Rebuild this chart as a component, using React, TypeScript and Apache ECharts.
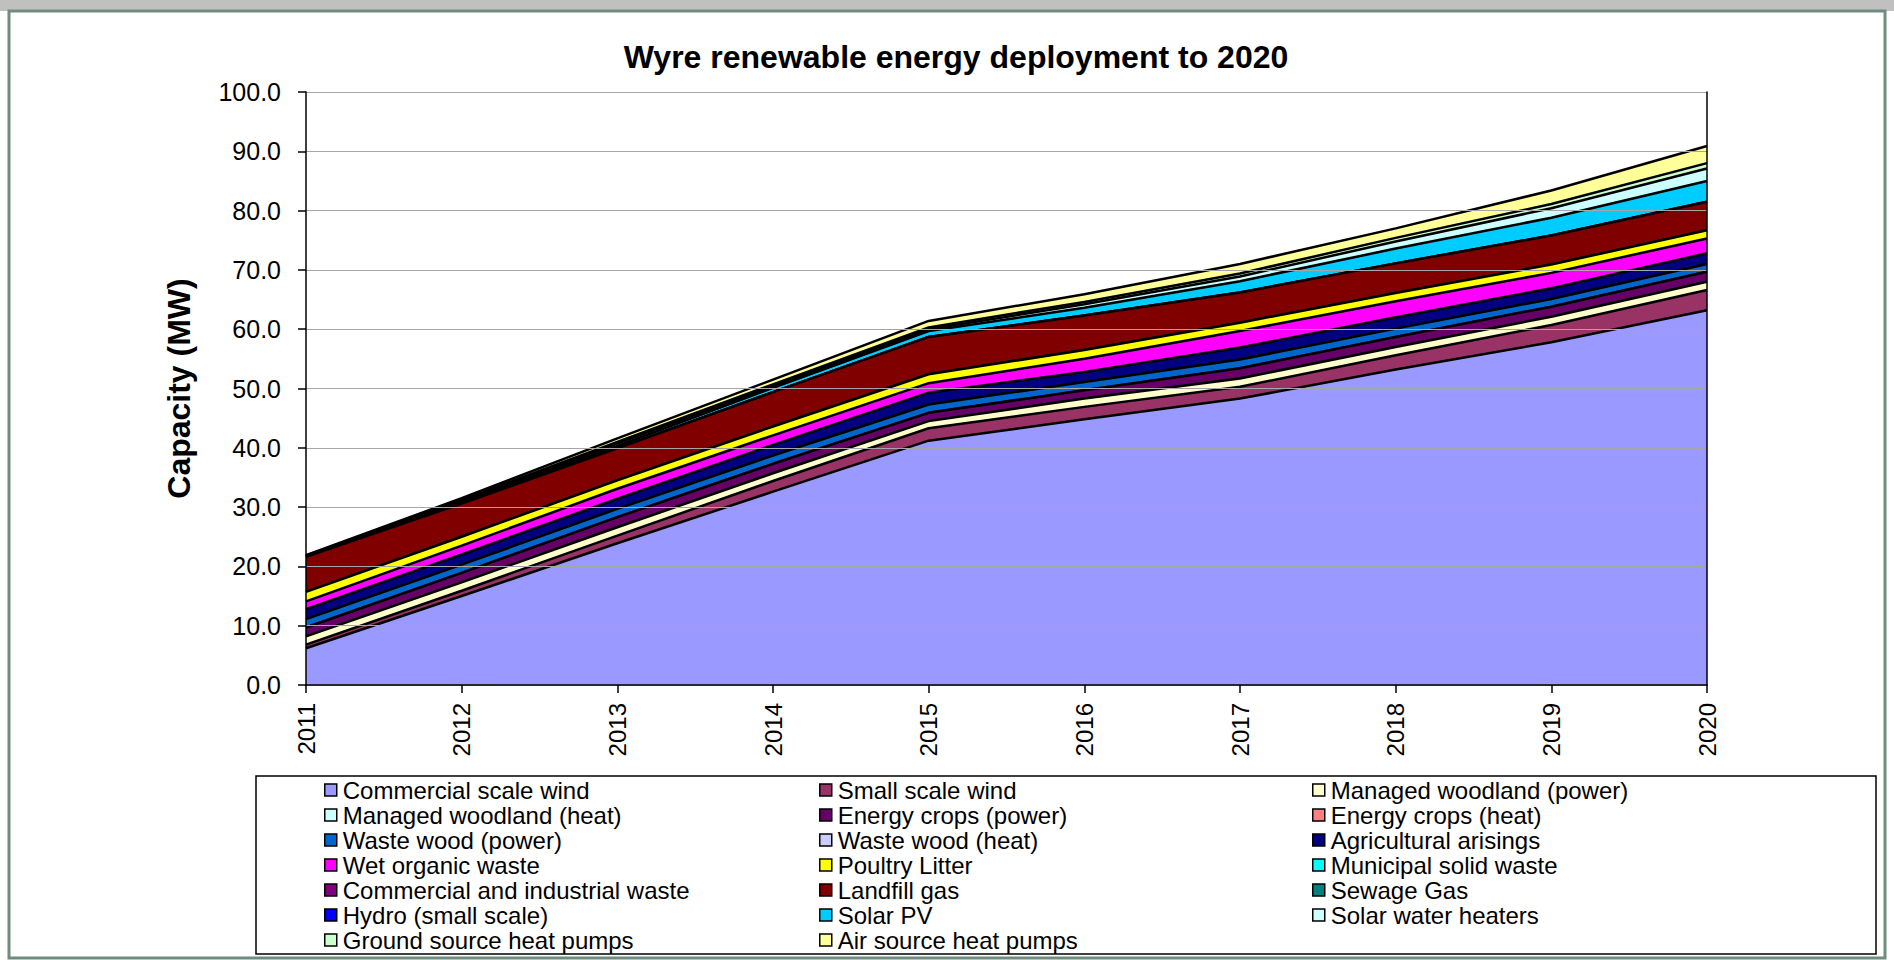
import React, { useEffect, useRef } from 'react';
import * as echarts from 'echarts';

const years = ['2011', '2012', '2013', '2014', '2015', '2016', '2017', '2018', '2019', '2020'];
const yTicks = [0, 10, 20, 30, 40, 50, 60, 70, 80, 90, 100];

const seriesNames = [
  'Commercial scale wind', 'Small scale wind', 'Managed woodland (power)',
  'Managed woodland (heat)', 'Energy crops (power)', 'Energy crops (heat)',
  'Waste wood (power)', 'Waste wood (heat)', 'Agricultural arisings',
  'Wet organic waste', 'Poultry Litter', 'Municipal solid waste',
  'Commercial and industrial waste', 'Landfill gas', 'Sewage Gas',
  'Hydro (small scale)', 'Solar PV', 'Solar water heaters',
  'Ground source heat pumps', 'Air source heat pumps',
];

const seriesColors = [
  '#9999FF', '#993366', '#FFFFCC', '#CCFFFF', '#660066', '#FF8080', '#0066CC',
  '#CCCCFF', '#000080', '#FF00FF', '#FFFF00', '#00FFFF', '#800080', '#800000',
  '#008080', '#0000FF', '#00CCFF', '#CCFFFF', '#CCFFCC', '#FFFF99',
];

// Capacity (MW) by year 2011..2020
const commercialWind = [6.2, 15.0, 23.9, 32.6, 41.2, 44.8, 48.3, 53.2, 57.8, 63.2];
const smallWind = [0.6, 0.9, 1.3, 1.8, 2.1, 2.1, 2.0, 2.4, 2.9, 3.4];
const woodlandPower = [1.4, 1.4, 1.4, 1.3, 1.2, 1.4, 1.4, 1.4, 1.4, 1.4];
const woodlandHeat = [0, 0, 0, 0, 0, 0, 0, 0, 0, 0];
const cropsPower = [1.5, 1.6, 1.7, 1.6, 1.4, 1.4, 1.7, 1.7, 1.7, 1.7];
const cropsHeat = [0, 0, 0, 0, 0, 0, 0, 0, 0, 0];
const wasteWoodPower = [1.4, 1.4, 1.4, 1.4, 1.4, 1.4, 1.5, 1.4, 1.3, 1.3];
const wasteWoodHeat = [0, 0, 0, 0, 0, 0, 0, 0, 0, 0];
const agricultural = [1.7, 1.7, 1.7, 1.8, 2.0, 1.7, 2.0, 1.9, 1.8, 1.8];
const wetOrganic = [1.3, 1.5, 1.7, 1.6, 1.6, 2.2, 2.8, 2.7, 2.6, 2.5];
const poultry = [1.6, 1.5, 1.4, 1.5, 1.5, 1.5, 1.4, 1.4, 1.4, 1.4];
const municipal = [0, 0, 0, 0, 0, 0, 0, 0, 0, 0];
const industrialWaste = [0, 0, 0, 0, 0, 0, 0, 0, 0, 0];
const landfill = [5.9, 5.6, 5.4, 5.8, 6.3, 5.8, 5.1, 5.0, 4.9, 4.8];
const sewage = [0, 0, 0, 0, 0, 0, 0, 0, 0, 0];
const hydro = [0, 0, 0, 0, 0, 0, 0, 0, 0, 0];
const solarPV = [0.1, 0.2, 0.4, 0.7, 1.0, 1.3, 1.9, 2.5, 3.0, 3.5];
const solarWater = [0.05, 0.2, 0.4, 0.3, 0.3, 0.6, 0.8, 1.2, 1.6, 2.1];
const groundHeat = [0.05, 0.2, 0.3, 0.3, 0.3, 0.4, 0.5, 0.6, 0.7, 0.9];
const airHeat = [0.1, 0.3, 0.6, 0.8, 1.1, 1.3, 1.6, 1.6, 2.3, 2.9];

const seriesValues = [
  commercialWind, smallWind, woodlandPower, woodlandHeat, cropsPower, cropsHeat,
  wasteWoodPower, wasteWoodHeat, agricultural, wetOrganic, poultry, municipal,
  industrialWaste, landfill, sewage, hydro, solarPV, solarWater, groundHeat, airHeat,
];

const FONT = '"Liberation Sans", Arial, Helvetica, sans-serif';

export default function App() {
  const ref = useRef<HTMLDivElement>(null);

  useEffect(() => {
    if (!ref.current) return;
    const chart = echarts.init(ref.current, null, { renderer: 'svg' });

    const series = seriesNames.map((name, i) => ({
      name,
      type: 'line',
      stack: 'total',
      data: seriesValues[i],
      symbol: 'none',
      showSymbol: false,
      z: 60 - i,
      itemStyle: { color: seriesColors[i] },
      lineStyle: { color: '#000000', width: 2.5 },
      areaStyle: { color: seriesColors[i], opacity: 1 },
      emphasis: { disabled: true },
    }));

    const columns = [0, 1, 2].map((c) =>
      seriesNames.filter((_, i) => i % 3 === c)
    );
    const colLeft = [324, 819, 1312];

    const legends = columns.map((names, c) => ({
      data: names,
      orient: 'vertical',
      left: colLeft[c],
      top: 778,
      padding: 0,
      itemGap: 1,
      icon: 'rect',
      itemWidth: 12,
      itemHeight: 12,
      selectedMode: false,
      itemStyle: { borderColor: '#000000', borderWidth: 1.5 },
      textStyle: { fontFamily: FONT, fontSize: 24, color: '#000000', padding: [0, 0, 0, 1] },
    }));

    chart.setOption({
      animation: false,
      backgroundColor: '#ffffff',
      textStyle: { fontFamily: FONT },
      graphic: [
        { type: 'rect', shape: { x: 0, y: 0, width: 1894, height: 11 }, style: { fill: '#c0c0c0' }, silent: true },
        { type: 'rect', shape: { x: 9, y: 11, width: 1876, height: 947 }, style: { fill: 'none', stroke: '#6f8c7c', lineWidth: 3 }, silent: true },
        { type: 'rect', shape: { x: 256, y: 776, width: 1620, height: 178 }, style: { fill: 'none', stroke: '#000000', lineWidth: 1.5 }, silent: true },
        {
          type: 'text', x: 956, y: 57,
          style: {
            text: 'Wyre renewable energy deployment to 2020',
            fontFamily: FONT, fontSize: 32, fontWeight: 'bold', fill: '#000000',
            align: 'center', verticalAlign: 'middle',
          },
          silent: true,
        },
      ],
      grid: { left: 306, right: 187, top: 92, bottom: 275, containLabel: false },
      legend: legends,
      xAxis: {
        type: 'category',
        data: years,
        boundaryGap: false,
        axisLine: { show: true, lineStyle: { color: '#000000', width: 1.5 } },
        axisTick: { show: true, length: 8, lineStyle: { color: '#000000', width: 1.5 } },
        axisLabel: { rotate: 90, margin: 18, fontSize: 24, color: '#000000', fontFamily: FONT },
        splitLine: { show: false },
        z: 80,
      },
      yAxis: [
        {
          type: 'value',
          min: yTicks[0],
          max: yTicks[yTicks.length - 1],
          interval: 10,
          name: 'Capacity (MW)',
          nameLocation: 'middle',
          nameGap: 111,
          nameTextStyle: { fontFamily: FONT, fontSize: 32, fontWeight: 'bold', color: '#000000' },
          axisLine: { show: true, lineStyle: { color: '#000000', width: 1.5 } },
          axisTick: { show: true, length: 8, lineStyle: { color: '#000000', width: 1.5 } },
          axisLabel: {
            margin: 25, fontSize: 25, color: '#000000', fontFamily: FONT,
            formatter: (v: number) => v.toFixed(1),
          },
          splitLine: { show: true, lineStyle: { color: '#a6a6a6', width: 1 } },
          z: 80,
        },
        {
          type: 'value',
          position: 'right',
          min: yTicks[0],
          max: yTicks[yTicks.length - 1],
          interval: 10,
          axisLine: { show: true, lineStyle: { color: '#000000', width: 1.5 } },
          axisTick: { show: false },
          axisLabel: { show: false },
          splitLine: { show: false },
          z: 80,
        },
      ],
      series,
    });

    return () => chart.dispose();
  }, []);

  return (
    <div
      ref={ref}
      style={{ position: 'absolute', left: 0, top: 0, width: 1894, height: 960 }}
    />
  );
}
